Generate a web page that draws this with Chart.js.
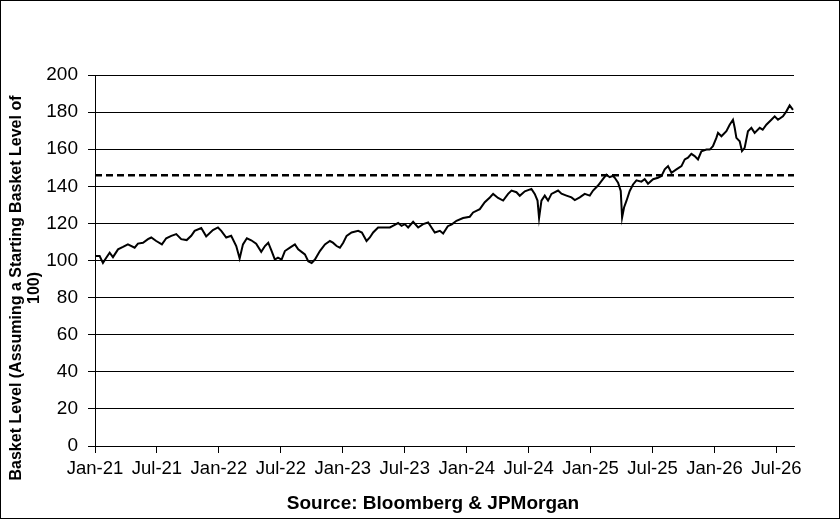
<!DOCTYPE html>
<html>
<head>
<meta charset="utf-8">
<script src="https://cdn.jsdelivr.net/npm/chart.js@4"></script>
<style>
  html, body { margin: 0; padding: 0; background: #fff; }
  #wrap { width: 840px; height: 519px; position: relative; }
</style>
</head>
<body>
<div id="wrap"><canvas id="basketChart"></canvas></div>
<script>
  'use strict';

  // Months elapsed since 1 Jan 2021 for each observation
  const monthOffsets = [
    0, 0.45, 0.77, 1.09, 1.42, 1.74, 2.23, 2.71, 3.19, 3.84, 4.16, 4.65, 5.13, 5.45, 5.93,
    6.48, 6.90, 7.39, 7.87, 8.35, 8.88, 9.32, 9.65, 10.29, 10.77, 11.42, 11.91,
    12.23, 12.71, 13.19, 13.68, 14.01, 14.33, 14.71, 15.13, 15.61, 16.10, 16.46, 16.78,
    17.11, 17.42, 17.72, 18.07, 18.39, 18.88, 19.36, 19.68, 20.04, 20.33, 20.65, 20.98,
    21.30, 21.78, 22.27, 22.75, 23.04, 23.40, 23.72, 24.04, 24.37, 24.85, 25.49, 25.85,
    26.30, 26.62, 26.94, 27.42, 28.07, 28.56, 28.85, 29.36, 29.69, 30.01, 30.33, 30.81,
    31.30, 31.78, 32.27, 32.59, 32.91, 33.40, 33.72, 34.17, 34.56, 35.01, 35.65, 36.30,
    36.62, 37.27, 37.75, 38.24, 38.56, 39.04, 39.53, 40.01, 40.34, 40.82, 41.14, 41.63,
    42.27, 42.59, 42.86, 43.01, 43.24, 43.56, 43.88, 44.21, 44.85, 45.18, 45.66, 46.15,
    46.47, 46.95, 47.43, 47.92, 48.24, 48.72, 49.21, 49.53, 49.85, 50.17, 50.34, 50.66,
    50.92, 51.05, 51.24, 51.47, 51.79, 52.11, 52.44, 52.92, 53.24, 53.56, 54.05, 54.53,
    54.86, 55.18, 55.50, 55.83, 56.31, 56.80, 57.12, 57.43, 57.76, 58.08, 58.40, 58.73,
    59.22, 59.54, 59.85, 60.18, 60.34, 60.67, 61.15, 61.47, 61.79, 61.96, 62.12, 62.44,
    62.66, 62.92, 63.24, 63.57, 63.89, 64.38, 64.67, 65.02, 65.51, 65.83, 66.15, 66.63,
    66.96, 67.28, 67.60
  ];

  // Basket level (start = 100)
  const basketLevels = [
    102.4, 102.4, 98.7, 101.5, 104.2, 101.8, 106.0, 107.3, 108.7, 106.9, 109.1, 109.6, 111.5, 112.4, 110.5,
    108.7, 112.0, 113.3, 114.2, 111.5, 111.0, 113.3, 116.0, 117.5, 113.0, 116.4, 117.8,
    116.0, 112.4, 113.3, 107.8, 101.1, 108.7, 112.0, 110.9, 109.1, 104.7, 107.8, 109.6,
    105.1, 100.5, 101.5, 100.5, 105.1, 106.9, 108.7, 106.0, 104.5, 103.3, 99.6, 98.7,
    100.5, 105.1, 108.7, 110.5, 109.6, 107.8, 106.9, 109.6, 113.3, 115.1, 116.0, 115.1,
    110.5, 112.4, 115.1, 117.8, 117.8, 117.8, 118.7, 120.2, 118.7, 119.6, 117.8, 120.9,
    117.8, 119.6, 120.5, 117.8, 115.1, 116.0, 114.5, 118.5, 119.5, 121.4, 122.9, 123.6,
    125.9, 127.7, 131.4, 134.0, 135.9, 133.7, 132.3, 135.9, 137.7, 136.8, 134.9, 137.3,
    138.6, 135.9, 132.3, 122.9, 132.3, 135.0, 132.3, 135.9, 137.7, 136.0, 135.0, 134.0,
    132.6, 134.0, 135.9, 135.0, 137.7, 140.4, 144.0, 146.3, 144.9, 145.7, 144.6, 142.0,
    137.5, 123.2, 128.6, 132.1, 137.5, 141.0, 143.2, 142.5, 143.8, 141.4, 143.8, 144.6,
    145.5, 149.1, 150.9, 147.3, 149.1, 150.9, 154.5, 155.4, 157.5, 156.3, 154.5, 158.9,
    159.8, 159.8, 161.6, 166.1, 168.8, 167.0, 169.7, 173.2, 175.9, 171.4, 166.1, 164.3,
    159.0, 160.7, 169.7, 171.5, 168.8, 171.5, 170.5, 173.2, 175.9, 177.7, 175.9, 177.7,
    180.4, 183.6, 181.2
  ];

  const referenceLevel = 146;
  const axisEndMonth = 67.7;

  const tickMonths = [0, 6, 12, 18, 24, 30, 36, 42, 48, 54, 60, 66];
  const tickLabels = ['Jan-21', 'Jul-21', 'Jan-22', 'Jul-22', 'Jan-23', 'Jul-23',
    'Jan-24', 'Jul-24', 'Jan-25', 'Jul-25', 'Jan-26', 'Jul-26'];

  const yTitleLines = ['Basket Level (Assuming a Starting Basket Level of', '100)'];
  const sourceText = 'Source: Bloomberg & JPMorgan';

  const FONT = '"Liberation Sans", Arial, sans-serif';

  // Titles and the outer frame, drawn on top of the chart
  const framePlugin = {
    id: 'frame',
    afterDraw: function(chart) {
      const ctx = chart.ctx;
      const area = chart.chartArea;
      ctx.save();
      ctx.fillStyle = '#000';

      // y axis title, two rotated lines
      ctx.font = 'bold 16px ' + FONT;
      ctx.textAlign = 'center';
      ctx.textBaseline = 'alphabetic';
      ctx.translate(21, 288);
      ctx.rotate(-Math.PI / 2);
      ctx.fillText(yTitleLines[0], 0, 0);
      ctx.fillText(yTitleLines[1], 0, 18);
      ctx.setTransform(1, 0, 0, 1, 0, 0);
      ctx.restore();

      ctx.save();
      ctx.fillStyle = '#000';
      ctx.font = 'bold 19px ' + FONT;
      ctx.textAlign = 'center';
      ctx.textBaseline = 'alphabetic';
      ctx.fillText(sourceText, 433, 509);

      ctx.strokeStyle = '#000';
      ctx.lineWidth = 1;
      ctx.strokeRect(0.5, 0.5, chart.width - 1, chart.height - 1);
      ctx.restore();
    }
  };

  const levelPoints = monthOffsets.map((m, i) => ({ x: m, y: basketLevels[i] }));
  const referencePoints = [{ x: 0, y: referenceLevel }, { x: axisEndMonth, y: referenceLevel }];

  const ctx = document.getElementById('basketChart').getContext('2d');
  new Chart(ctx, {
    type: 'line',
    data: {
      datasets: [
        {
          label: 'Basket Level',
          data: levelPoints,
          borderColor: '#000',
          borderWidth: 2,
          pointRadius: 0,
          tension: 0,
          fill: false
        },
        {
          label: 'Reference',
          data: referencePoints,
          borderColor: '#000',
          borderWidth: 2.5,
          borderDash: [7, 4],
          pointRadius: 0,
          fill: false
        }
      ]
    },
    options: {
      responsive: true,
      maintainAspectRatio: false,
      animation: false,
      layout: {
        padding: { top: 75, right: 46, left: 0, bottom: 0 }
      },
      plugins: {
        legend: { display: false },
        tooltip: { enabled: false }
      },
      scales: {
        x: {
          type: 'linear',
          min: 0,
          max: axisEndMonth,
          afterBuildTicks: function(scale) {
            scale.ticks = tickMonths.map(v => ({ value: v }));
          },
          afterFit: function(scale) {
            scale.height = 73;
          },
          ticks: {
            autoSkip: false,
            maxRotation: 0,
            padding: 5,
            color: '#000',
            font: { family: FONT, size: 18.5 },
            callback: function(value) {
              const idx = tickMonths.indexOf(value);
              return idx >= 0 ? tickLabels[idx] : '';
            }
          },
          grid: {
            drawOnChartArea: false,
            drawTicks: true,
            tickLength: 7,
            color: '#000'
          },
          border: { color: '#000', width: 1 }
        },
        y: {
          min: 0,
          max: 200,
          afterFit: function(scale) {
            scale.width = 95;
          },
          ticks: {
            stepSize: 20,
            padding: 10,
            color: '#000',
            font: { family: FONT, size: 19 }
          },
          grid: {
            color: '#000',
            lineWidth: 1,
            drawTicks: true,
            tickLength: 7
          },
          border: { color: '#000', width: 1 }
        }
      }
    },
    plugins: [framePlugin]
  });
</script>
</body>
</html>
